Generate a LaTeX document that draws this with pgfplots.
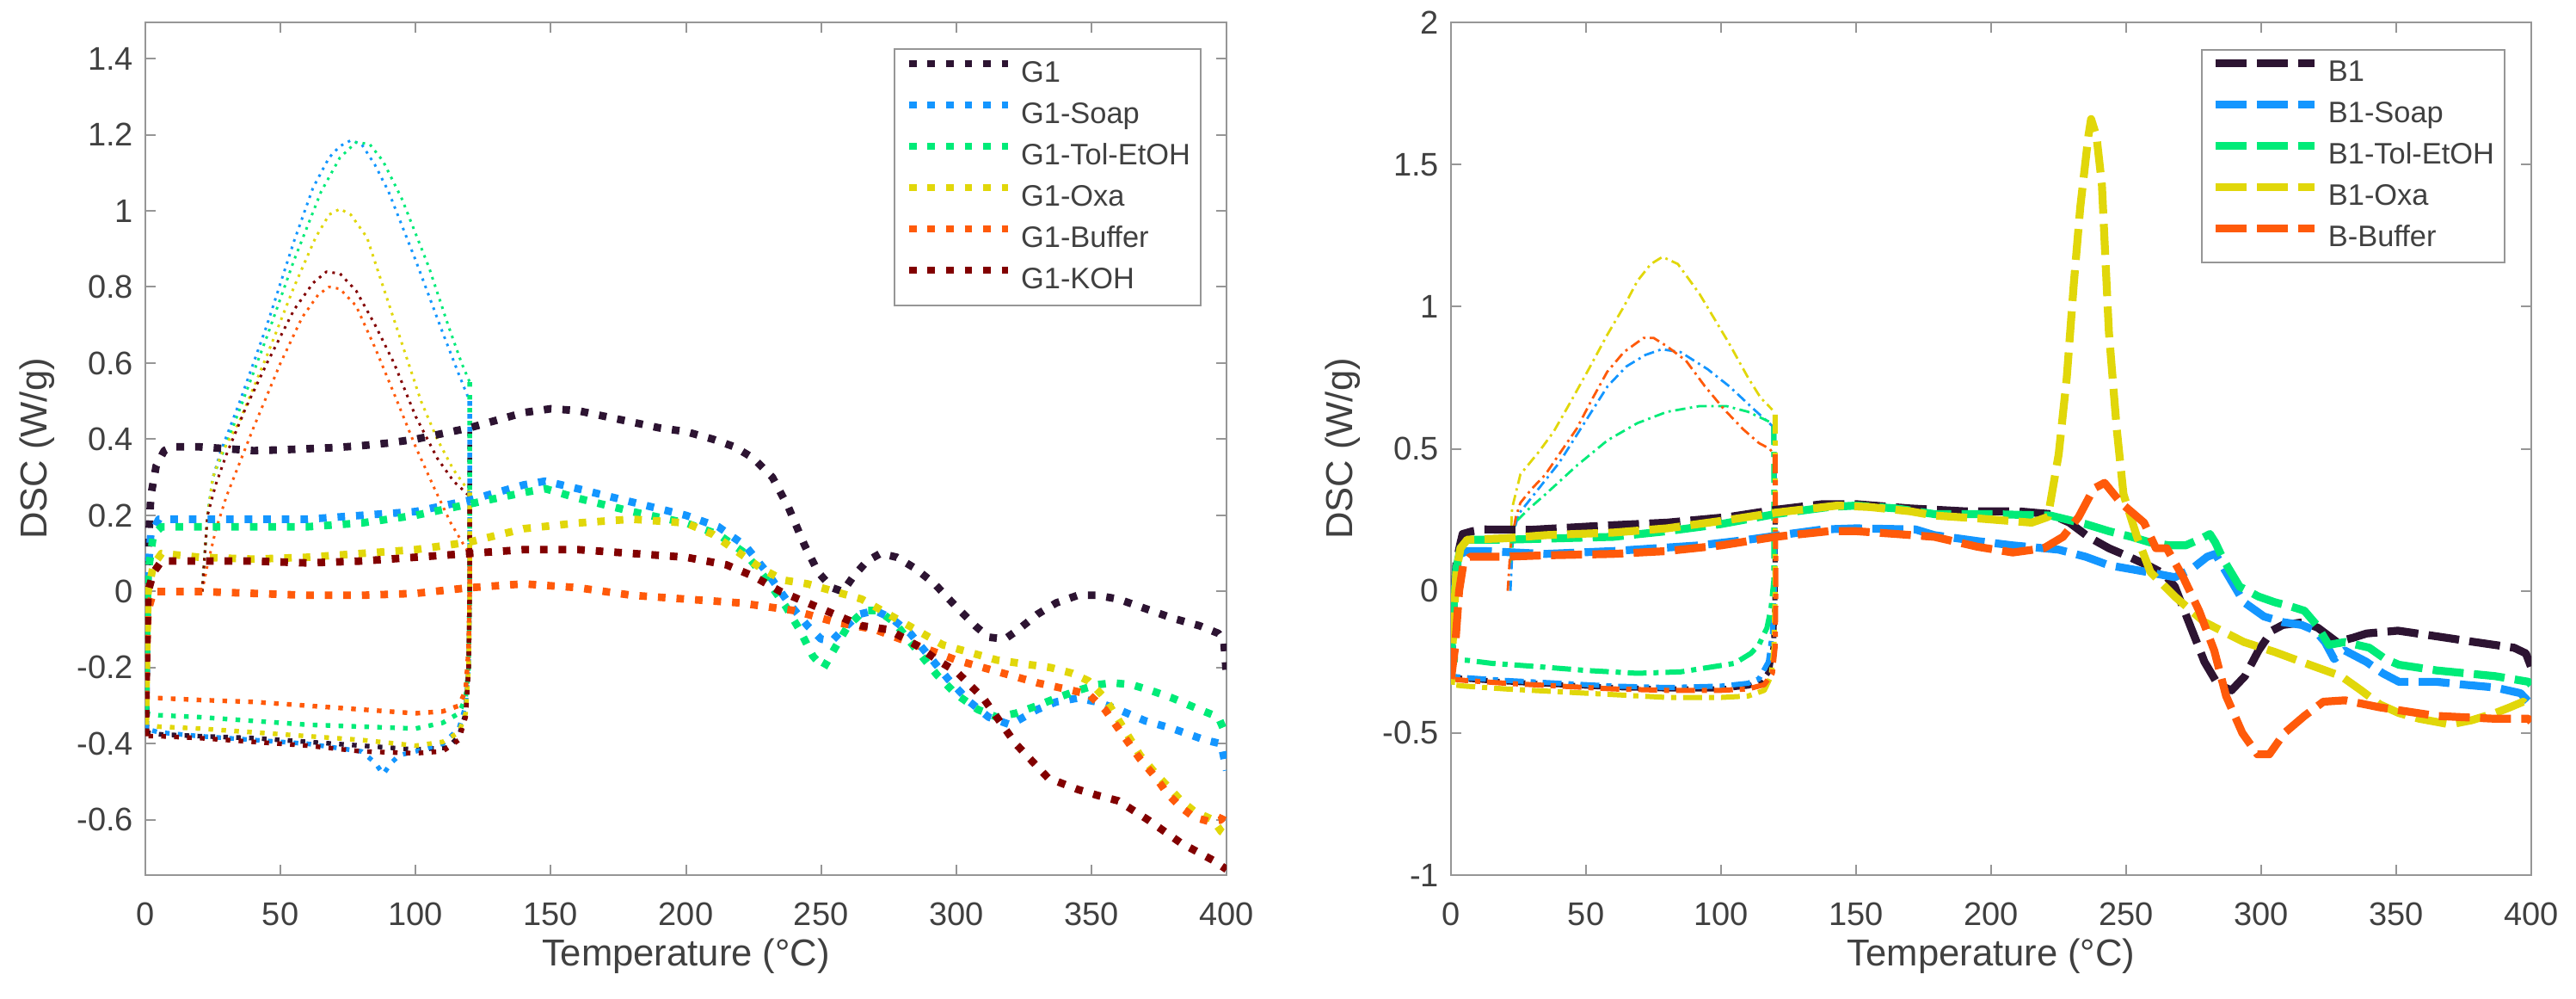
\documentclass[border=0pt]{standalone}
\usepackage{fontspec}
\setmainfont{Liberation Sans}
\usepackage{pgfplots}
\pgfplotsset{compat=1.18}
\definecolor{c1}{RGB}{45,20,50}
\definecolor{c2}{RGB}{20,150,255}
\definecolor{c3}{RGB}{0,235,120}
\definecolor{c4}{RGB}{225,215,10}
\definecolor{c5}{RGB}{255,90,10}
\definecolor{c6}{RGB}{130,0,0}
\definecolor{axisgray}{RGB}{150,150,150}
\definecolor{textgray}{RGB}{64,64,64}
\pgfplotsset{
  dscaxis/.style={
    scale only axis, anchor=south west,
    xmin=0, xmax=400, xtick={0,50,100,150,200,250,300,350,400},
    tick align=inside, major tick length=3pt,
    axis line style={draw=axisgray, line width=0.5pt},
    every tick/.style={draw=axisgray, line width=0.5pt},
    tick label style={font=\fontsize{9.5}{11}\selectfont, text=textgray},
    xticklabel style={yshift=-4.5pt},
    /pgf/number format/assume math mode=true,
    label style={font=\fontsize{10.9}{13}\selectfont, text=textgray},
    xlabel={Temperature (°C)}, ylabel={DSC (W/g)},
    xlabel style={at={(axis description cs:0.5,-0.0949)}, anchor=center},
    ylabel style={at={(axis description cs:-0.1003,0.5)}, anchor=center},
    legend cell align=left,
    legend image code/.code={\draw[##1] (0pt,3pt) -- (28.75pt,3pt);},
    every axis plot/.append style={line join=round, line cap=butt, mark=none},
  },
  legbox/.style={legend style={at={(1,1)}, anchor=north east, draw=axisgray, line width=0.5pt, fill=white,
    font=\fontsize{8.6}{10}\selectfont, text=textgray, inner xsep=3pt, inner ysep=3pt,
    row sep=3.5pt, column sep=2.75pt, nodes={inner sep=0pt, text height=6.5pt, text depth=2pt}}},
  Lthin/.style={line width=0.75pt, dash pattern=on 0.75pt off 1.5pt, forget plot},
  Lcool/.style={line width=1.35pt, dash pattern=on 1.35pt off 2.4pt, forget plot},
  Lheat/.style={line width=2.2pt, dash pattern=on 2.2pt off 3.2pt},
  Rthin/.style={line width=0.7pt, dash pattern=on 3pt off 1.3pt on 0.7pt off 1.3pt, forget plot},
  Rcool/.style={line width=1.5pt, dash pattern=on 5.5pt off 2pt on 1.5pt off 2pt, forget plot},
  Rheat/.style={line width=2.3pt, dash pattern=on 9pt off 3pt},
}
\begin{document}
\begin{tikzpicture}
%================ LEFT PANEL =================
\begin{axis}[dscaxis, legbox, at={(42.25pt,35.75pt)}, width=314.25pt, height=247.75pt,
  ymin=-0.745, ymax=1.495, ytick={-0.6,-0.4,-0.2,0,0.2,0.4,0.6,0.8,1,1.2,1.4},
  legend style={xshift=-7.25pt, yshift=-7.5pt}]
% first heating (thin)
\addplot[Lthin, c2] coordinates {(21,0)(22,0.1)(23,0.2)(25,0.3)(28,0.37)(35,0.5)(45,0.7)(55,0.92)(62,1.06)(68,1.14)(72,1.17)(76,1.185)(80,1.175)(85,1.12)(90,1.05)(100,0.87)(110,0.68)(116,0.57)(120,0.5)};
\addplot[Lthin, c3] coordinates {(21,0)(22,0.1)(23,0.2)(25,0.3)(29,0.37)(35,0.48)(45,0.67)(55,0.87)(65,1.05)(72,1.14)(78,1.18)(83,1.175)(88,1.13)(95,1.03)(105,0.85)(112,0.7)(117,0.6)(120,0.55)};
\addplot[Lthin, c4] coordinates {(21,0)(22,0.1)(23,0.2)(25,0.3)(28,0.36)(35,0.45)(45,0.62)(55,0.8)(63,0.93)(68,0.99)(72,1.005)(76,0.99)(82,0.93)(88,0.8)(95,0.65)(102,0.5)(108,0.4)(114,0.32)(120,0.26)};
\addplot[Lthin, c5] coordinates {(21,0)(23,0.07)(26,0.16)(30,0.25)(40,0.43)(50,0.6)(58,0.72)(64,0.78)(68,0.8)(72,0.795)(78,0.75)(85,0.64)(92,0.52)(100,0.38)(107,0.27)(113,0.18)(118,0.12)(120,0.1)};
\addplot[Lthin, c6] coordinates {(21,0)(22,0.1)(23,0.2)(26,0.28)(30,0.36)(37,0.48)(45,0.6)(55,0.74)(62,0.81)(67,0.84)(72,0.835)(78,0.79)(85,0.7)(92,0.6)(100,0.46)(108,0.35)(114,0.29)(120,0.25)};
% cooling (medium)
\addplot[Lcool, c1] coordinates {(120,0.42)(120,0)(119.6,-0.2)(118.5,-0.32)(116,-0.38)(112,-0.41)(100,-0.415)(80,-0.405)(60,-0.395)(40,-0.385)(20,-0.38)(5,-0.375)(0,-0.37)};
\addplot[Lcool, c2] coordinates {(120,0.5)(120,0)(119.6,-0.2)(118.5,-0.3)(116,-0.36)(110,-0.4)(100,-0.42)(94,-0.43)(91,-0.45)(88,-0.48)(85,-0.45)(80,-0.42)(60,-0.4)(40,-0.39)(20,-0.38)(5,-0.37)(0,-0.36)};
\addplot[Lcool, c3] coordinates {(120,0.55)(120,0)(119.6,-0.2)(118.5,-0.28)(116,-0.32)(110,-0.345)(100,-0.36)(80,-0.355)(60,-0.35)(40,-0.34)(20,-0.33)(5,-0.325)(0,-0.32)};
\addplot[Lcool, c4] coordinates {(120,0.26)(120,0)(119.6,-0.2)(118.5,-0.32)(116,-0.37)(110,-0.395)(100,-0.405)(80,-0.39)(60,-0.38)(40,-0.37)(20,-0.36)(5,-0.355)(0,-0.35)};
\addplot[Lcool, c5] coordinates {(120,0.1)(120,0)(119.6,-0.15)(118.5,-0.26)(116,-0.3)(110,-0.315)(100,-0.32)(80,-0.31)(60,-0.3)(40,-0.29)(20,-0.285)(5,-0.28)(0,-0.28)};
\addplot[Lcool, c6] coordinates {(120,0.25)(120,0)(119.6,-0.2)(118.5,-0.33)(116,-0.39)(110,-0.42)(100,-0.425)(80,-0.42)(60,-0.405)(40,-0.395)(20,-0.385)(5,-0.38)(0,-0.38)};
% second heating (thick)
\addplot[Lheat, c1] coordinates {(0,-0.37)(0.5,-0.1)(1,0.1)(2,0.25)(4,0.33)(7,0.37)(10,0.38)(20,0.38)(30,0.375)(40,0.37)(50,0.372)(60,0.375)(70,0.378)(80,0.383)(90,0.39)(100,0.4)(110,0.415)(120,0.43)(130,0.45)(140,0.47)(150,0.48)(160,0.475)(170,0.46)(180,0.445)(190,0.43)(200,0.42)(210,0.4)(218,0.38)(225,0.35)(232,0.3)(238,0.22)(244,0.12)(249,0.05)(254,0.01)(258,0)(262,0.04)(267,0.08)(272,0.1)(278,0.09)(285,0.06)(292,0.02)(300,-0.04)(307,-0.09)(312,-0.12)(318,-0.125)(323,-0.1)(330,-0.06)(337,-0.03)(345,-0.01)(352,-0.01)(360,-0.02)(370,-0.045)(380,-0.07)(390,-0.09)(397,-0.11)(399,-0.13)(400,-0.22)};
\addlegendentry{G1}
\addplot[Lheat, c2] coordinates {(0,-0.36)(0.5,-0.1)(1,0.05)(2,0.15)(5,0.19)(20,0.19)(40,0.19)(60,0.19)(80,0.2)(100,0.21)(120,0.24)(140,0.28)(148,0.29)(160,0.27)(180,0.235)(200,0.2)(212,0.17)(222,0.12)(230,0.05)(238,-0.03)(245,-0.09)(250,-0.125)(254,-0.13)(258,-0.1)(264,-0.06)(270,-0.05)(276,-0.07)(283,-0.11)(290,-0.17)(297,-0.23)(305,-0.29)(312,-0.33)(320,-0.35)(330,-0.31)(337,-0.29)(345,-0.28)(352,-0.29)(360,-0.31)(370,-0.34)(380,-0.36)(392,-0.39)(398,-0.4)(400,-0.47)};
\addlegendentry{G1-Soap}
\addplot[Lheat, c3] coordinates {(0,-0.32)(0.5,-0.1)(1,0.05)(3,0.15)(6,0.17)(20,0.17)(40,0.17)(60,0.17)(80,0.18)(100,0.2)(120,0.23)(140,0.26)(148,0.27)(160,0.245)(180,0.21)(200,0.18)(212,0.15)(222,0.1)(230,0.03)(237,-0.04)(242,-0.1)(247,-0.17)(251,-0.2)(255,-0.15)(260,-0.09)(266,-0.05)(271,-0.05)(277,-0.08)(285,-0.15)(293,-0.22)(300,-0.27)(308,-0.31)(315,-0.33)(322,-0.32)(330,-0.3)(337,-0.28)(345,-0.26)(352,-0.245)(358,-0.24)(365,-0.245)(372,-0.26)(380,-0.28)(390,-0.31)(397,-0.33)(400,-0.38)};
\addlegendentry{G1-Tol-EtOH}
\addplot[Lheat, c4] coordinates {(0,-0.35)(0.5,-0.15)(1,0)(3,0.07)(6,0.1)(20,0.09)(40,0.085)(60,0.09)(80,0.1)(100,0.11)(120,0.13)(140,0.165)(160,0.18)(180,0.19)(200,0.18)(210,0.15)(220,0.1)(228,0.06)(236,0.03)(245,0.02)(255,0)(265,-0.02)(275,-0.06)(285,-0.1)(295,-0.14)(305,-0.16)(315,-0.18)(325,-0.19)(335,-0.2)(343,-0.215)(349,-0.235)(355,-0.28)(362,-0.36)(368,-0.43)(374,-0.48)(378,-0.51)(383,-0.548)(388,-0.577)(395,-0.6)(398,-0.63)(400,-0.64)};
\addlegendentry{G1-Oxa}
\addplot[Lheat, c5] coordinates {(0,-0.28)(0.5,-0.15)(1,-0.05)(3,0)(8,0)(20,0)(40,-0.005)(60,-0.01)(80,-0.01)(100,-0.005)(120,0.01)(140,0.02)(160,0.01)(180,-0.01)(200,-0.02)(220,-0.03)(240,-0.05)(255,-0.08)(270,-0.1)(285,-0.14)(300,-0.18)(315,-0.21)(330,-0.24)(343,-0.26)(349,-0.27)(355,-0.31)(362,-0.38)(368,-0.44)(374,-0.49)(378,-0.53)(383,-0.566)(388,-0.593)(394,-0.605)(398,-0.6)(400,-0.57)};
\addlegendentry{G1-Buffer}
\addplot[Lheat, c6] coordinates {(0,-0.38)(0.5,-0.15)(1,0)(3,0.05)(6,0.08)(20,0.08)(40,0.08)(60,0.075)(80,0.08)(100,0.09)(120,0.1)(140,0.11)(160,0.11)(180,0.1)(200,0.09)(215,0.07)(225,0.04)(235,0)(245,-0.03)(255,-0.06)(265,-0.09)(275,-0.1)(285,-0.14)(293,-0.18)(300,-0.21)(310,-0.28)(322,-0.4)(334,-0.49)(345,-0.52)(352,-0.535)(360,-0.55)(371,-0.6)(383,-0.66)(395,-0.706)(400,-0.73)};
\addlegendentry{G1-KOH}
\end{axis}
%================ RIGHT PANEL =================
\begin{axis}[dscaxis, legbox, at={(421.75pt,35.75pt)}, width=314pt, height=247.75pt,
  ymin=-1, ymax=2, ytick={-1,-0.5,0,0.5,1,1.5,2},
  legend style={xshift=-7.5pt, yshift=-7.75pt, inner ysep=2.6pt}]
% first heating (thin)
\addplot[Rthin, c2] coordinates {(22,0)(23,0.2)(25,0.27)(30,0.33)(40,0.45)(50,0.6)(58,0.72)(65,0.79)(72,0.83)(78,0.85)(85,0.84)(95,0.78)(103,0.72)(112,0.64)(119,0.58)};
\addplot[Rthin, c3] coordinates {(22,0.1)(23.7,0.24)(29,0.29)(35,0.34)(46.5,0.44)(58,0.53)(69,0.59)(80,0.63)(92,0.65)(102,0.65)(110,0.63)(119,0.59)};
\addplot[Rthin, c4] coordinates {(22,0.15)(22.6,0.29)(25.7,0.41)(32.6,0.49)(38,0.56)(44,0.66)(51,0.78)(57.8,0.9)(64,1.0)(69,1.09)(74,1.15)(78.3,1.175)(84,1.15)(92,1.045)(103,0.87)(110,0.75)(114.6,0.68)(119,0.637)};
\addplot[Rthin, c5] coordinates {(21,0)(22,0.15)(24,0.26)(25.7,0.31)(30,0.36)(35,0.41)(40,0.48)(46.5,0.57)(52,0.67)(57.8,0.77)(64,0.84)(71.3,0.89)(75,0.89)(80,0.86)(87,0.81)(94,0.72)(101,0.64)(108,0.57)(114,0.52)(118,0.5)(119.5,0.48)};
% cooling (medium)
\addplot[Rcool, c1] coordinates {(120,0.3)(120,0)(119.5,-0.18)(118,-0.28)(115,-0.32)(110,-0.335)(100,-0.345)(80,-0.345)(60,-0.34)(40,-0.33)(20,-0.32)(5,-0.31)(0,-0.3)};
\addplot[Rcool, c2] coordinates {(119.5,0.58)(120,0.2)(119.7,0)(119,-0.15)(117.5,-0.25)(114,-0.31)(110,-0.325)(100,-0.335)(80,-0.34)(60,-0.335)(40,-0.325)(20,-0.315)(5,-0.305)(0,-0.3)};
\addplot[Rcool, c3] coordinates {(119.5,0.58)(119.5,0.034)(118.5,-0.06)(117,-0.13)(114,-0.19)(111,-0.22)(105,-0.255)(95,-0.27)(85,-0.285)(69,-0.29)(50,-0.28)(30,-0.265)(15,-0.255)(6.7,-0.245)(0,-0.24)};
\addplot[Rcool, c4] coordinates {(120,0.62)(120,0)(119.6,-0.2)(118.5,-0.3)(116,-0.35)(110,-0.37)(100,-0.375)(80,-0.375)(60,-0.365)(40,-0.355)(20,-0.345)(5,-0.335)(0,-0.33)};
\addplot[Rcool, c5] coordinates {(120,0.48)(120.3,0)(120,-0.2)(119,-0.29)(116,-0.33)(110,-0.345)(100,-0.35)(80,-0.35)(60,-0.345)(40,-0.335)(20,-0.325)(5,-0.315)(0,-0.31)};
% second heating (thick)
\addplot[Rheat, c1] coordinates {(0,-0.3)(1,-0.05)(2,0.1)(3.3,0.16)(4.3,0.2)(8,0.21)(12,0.216)(30,0.215)(57.8,0.23)(80,0.24)(103,0.26)(120,0.285)(137.5,0.305)(150,0.305)(170,0.29)(190,0.28)(210,0.28)(222,0.27)(229,0.24)(236,0.19)(243.6,0.15)(251,0.12)(259,0.085)(264,0.06)(268,0.015)(273.6,-0.12)(279,-0.25)(284,-0.33)(289,-0.35)(294,-0.3)(299,-0.21)(304,-0.14)(308,-0.12)(316,-0.11)(321,-0.13)(328,-0.18)(334,-0.165)(339,-0.15)(350.6,-0.14)(365,-0.16)(379,-0.18)(393.6,-0.2)(398,-0.22)(400,-0.27)};
\addlegendentry{B1}
\addplot[Rheat, c2] coordinates {(0,-0.3)(1,-0.05)(2,0.08)(3.5,0.13)(6,0.14)(12.3,0.14)(35,0.13)(60,0.14)(92,0.16)(110,0.18)(125,0.2)(137.5,0.216)(150,0.22)(172,0.216)(179,0.196)(195,0.175)(208,0.16)(225,0.145)(235,0.12)(243.6,0.09)(258,0.066)(268,0.048)(274,0.075)(280,0.12)(283,0.13)(288,0.05)(293.6,-0.04)(301,-0.09)(308,-0.11)(315,-0.12)(320,-0.14)(323.6,-0.18)(327,-0.24)(331,-0.21)(339,-0.25)(345,-0.29)(351,-0.32)(365,-0.32)(375,-0.33)(386.6,-0.34)(396,-0.36)(400,-0.4)};
\addlegendentry{B1-Soap}
\addplot[Rheat, c3] coordinates {(0,-0.24)(1,-0.05)(2,0.08)(3.5,0.15)(6,0.18)(20,0.18)(40,0.185)(60,0.19)(80,0.21)(100,0.235)(120,0.27)(140,0.295)(150,0.3)(165,0.29)(179,0.27)(200,0.27)(222,0.265)(235,0.235)(243.6,0.21)(252,0.19)(259,0.17)(266,0.16)(272,0.16)(278,0.185)(281,0.2)(283,0.17)(286,0.11)(292,0.015)(299,-0.02)(305,-0.04)(311,-0.055)(316,-0.07)(320.5,-0.12)(325,-0.19)(331,-0.18)(340,-0.2)(346,-0.24)(351,-0.26)(365,-0.28)(386.6,-0.3)(399,-0.32)(400,-0.33)};
\addlegendentry{B1-Tol-EtOH}
\addplot[Rheat, c4] coordinates {(0,-0.33)(1,-0.1)(2,0.07)(3.5,0.15)(6,0.18)(20,0.185)(35,0.196)(60,0.205)(80,0.22)(103,0.25)(120,0.275)(143,0.3)(155,0.295)(170,0.28)(179,0.265)(195,0.255)(215,0.24)(221,0.26)(225,0.48)(228,0.75)(230.6,1.08)(233,1.35)(236,1.6)(237,1.66)(239,1.6)(241,1.43)(243.6,0.91)(246.5,0.57)(249,0.34)(254,0.19)(259,0.066)(268,-0.02)(279,-0.11)(293.6,-0.18)(305,-0.215)(315,-0.25)(329.6,-0.3)(337,-0.35)(344,-0.4)(351,-0.43)(358.6,-0.45)(370,-0.47)(378,-0.455)(386.6,-0.43)(392,-0.41)(397,-0.39)(400,-0.42)};
\addlegendentry{B1-Oxa}
\addplot[Rheat, c5] coordinates {(0,-0.31)(1.5,-0.2)(3,0)(4.5,0.09)(7,0.12)(20,0.12)(35,0.125)(60,0.13)(80,0.14)(100,0.16)(120,0.19)(140,0.21)(150,0.21)(165,0.2)(179,0.19)(195,0.155)(208,0.135)(219.5,0.15)(226.6,0.19)(232.4,0.26)(238,0.36)(242,0.38)(248,0.31)(256.6,0.24)(261,0.15)(265,0.15)(271,0.05)(277,-0.07)(282.6,-0.21)(287,-0.37)(293,-0.5)(298.6,-0.575)(303,-0.575)(308.6,-0.5)(316,-0.44)(323,-0.39)(331,-0.385)(344,-0.41)(365,-0.44)(386.6,-0.45)(399,-0.45)(400,-0.46)};
\addlegendentry{B-Buffer}
\end{axis}
\pgfresetboundingbox
\path (0,0) rectangle (748.75pt,290pt);
\end{tikzpicture}
\end{document}
